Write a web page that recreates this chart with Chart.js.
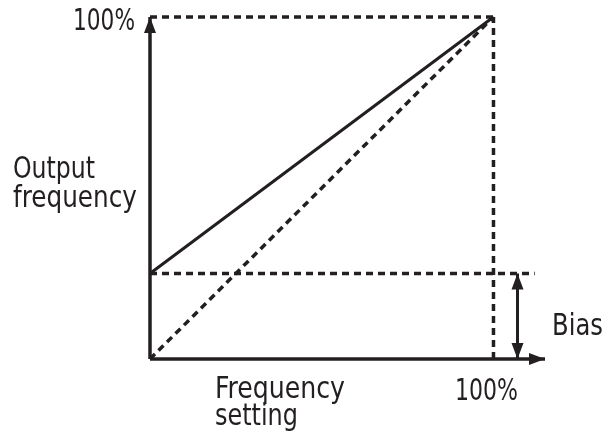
<!DOCTYPE html>
<html>
<head>
<meta charset="utf-8">
<script src="https://cdn.jsdelivr.net/npm/chart.js@4"></script>
<style>
  html, body { margin: 0; padding: 0; background: #fff; }
  #wrap { width: 606px; height: 433px; }
</style>
</head>
<body>
<div id="wrap"><canvas id="biasChart"></canvas></div>
<script>
// values in percent of full scale
const biasPct = 25;
const fullPct = 100;
const xAxisEnd = 115;     // where the x arrow stops
const biasArrowX = 107;   // position of the bias dimension arrow
const biasDashEnd = 112;  // how far the bias guide line runs

const outputLine = [{ x: 0, y: biasPct }, { x: fullPct, y: fullPct }];
const noBiasLine = [{ x: 0, y: 0 }, { x: fullPct, y: fullPct }];
const topGuide = [{ x: 0, y: fullPct }, { x: fullPct, y: fullPct }];
const rightGuide = [{ x: fullPct, y: 0 }, { x: fullPct, y: fullPct }];
const biasGuide = [{ x: 0, y: biasPct }, { x: biasDashEnd, y: biasPct }];
const xAxisLine = [{ x: 0, y: 0 }, { x: xAxisEnd, y: 0 }];
const yAxisLine = [{ x: 0, y: 0 }, { x: 0, y: fullPct }];
const biasArrow = [{ x: biasArrowX, y: 0 }, { x: biasArrowX, y: biasPct }];

const FONT = '"DejaVu Sans Condensed", "Liberation Sans Narrow", sans-serif';
const DASH = [7, 5];
const INK = '#231f20';

function seg(data, opts) {
    return Object.assign({
        data: data,
        showLine: true,
        borderColor: INK,
        borderWidth: 3.5,
        pointRadius: 0,
        fill: false,
        tension: 0,
        clip: false
    }, opts || {});
}

function arrowHead(ctx, x, y, dir) {
    // dir: 'up' | 'down' | 'right'
    const len = 16, half = 6;
    ctx.beginPath();
    if (dir === 'up') {
        ctx.moveTo(x, y); ctx.lineTo(x - half, y + len); ctx.lineTo(x + half, y + len);
    } else if (dir === 'down') {
        ctx.moveTo(x, y); ctx.lineTo(x - half, y - len); ctx.lineTo(x + half, y - len);
    } else {
        ctx.moveTo(x, y); ctx.lineTo(x - len, y - half); ctx.lineTo(x - len, y + half);
    }
    ctx.closePath();
    ctx.fill();
}

// condensed label: squeeze the text horizontally to the given width
function label(ctx, text, left, baseline, width) {
    const w = ctx.measureText(text).width;
    ctx.save();
    ctx.translate(left, baseline);
    ctx.scale(width / w, 1);
    ctx.fillText(text, 0, 0);
    ctx.restore();
}

const annotate = {
    id: 'annotate',
    afterDatasetsDraw(chart) {
        const ctx = chart.ctx;
        const xs = chart.scales.x, ys = chart.scales.y;
        ctx.save();
        ctx.fillStyle = INK;
        arrowHead(ctx, xs.getPixelForValue(0), ys.getPixelForValue(fullPct), 'up');
        arrowHead(ctx, xs.getPixelForValue(xAxisEnd), ys.getPixelForValue(0), 'right');
        arrowHead(ctx, xs.getPixelForValue(biasArrowX), ys.getPixelForValue(biasPct), 'up');
        arrowHead(ctx, xs.getPixelForValue(biasArrowX), ys.getPixelForValue(0), 'down');

        ctx.font = '30px ' + FONT;
        ctx.textBaseline = 'alphabetic';
        ctx.textAlign = 'left';
        label(ctx, '100%', 73, 30, 62);
        label(ctx, 'Output', 13, 178, 82);
        label(ctx, 'frequency', 13, 207, 124);
        label(ctx, 'Frequency', 215, 398, 130);
        label(ctx, 'setting', 215, 425, 83);
        label(ctx, '100%', 455, 400, 63);
        label(ctx, 'Bias', 552, 335, 51);
        ctx.restore();
    }
};

// eslint-disable-next-line no-undef
new Chart(document.getElementById('biasChart'), {
    type: 'scatter',
    data: {
        datasets: [
            seg(topGuide, { borderDash: DASH }),
            seg(rightGuide, { borderDash: DASH }),
            seg(biasGuide, { borderDash: DASH }),
            seg(noBiasLine, { borderDash: DASH }),
            seg(outputLine, { borderWidth: 3 }),
            seg(xAxisLine),
            seg(yAxisLine),
            seg(biasArrow, { borderWidth: 3 })
        ]
    },
    options: {
        responsive: true,
        maintainAspectRatio: false,
        animation: false,
        layout: { padding: { left: 150, top: 17, right: 61, bottom: 74 } },
        scales: {
            x: { type: 'linear', min: 0, max: xAxisEnd, display: false },
            y: { type: 'linear', min: 0, max: fullPct, display: false }
        },
        plugins: {
            legend: { display: false },
            tooltip: { enabled: false }
        }
    },
    plugins: [annotate]
});
</script>
</body>
</html>
